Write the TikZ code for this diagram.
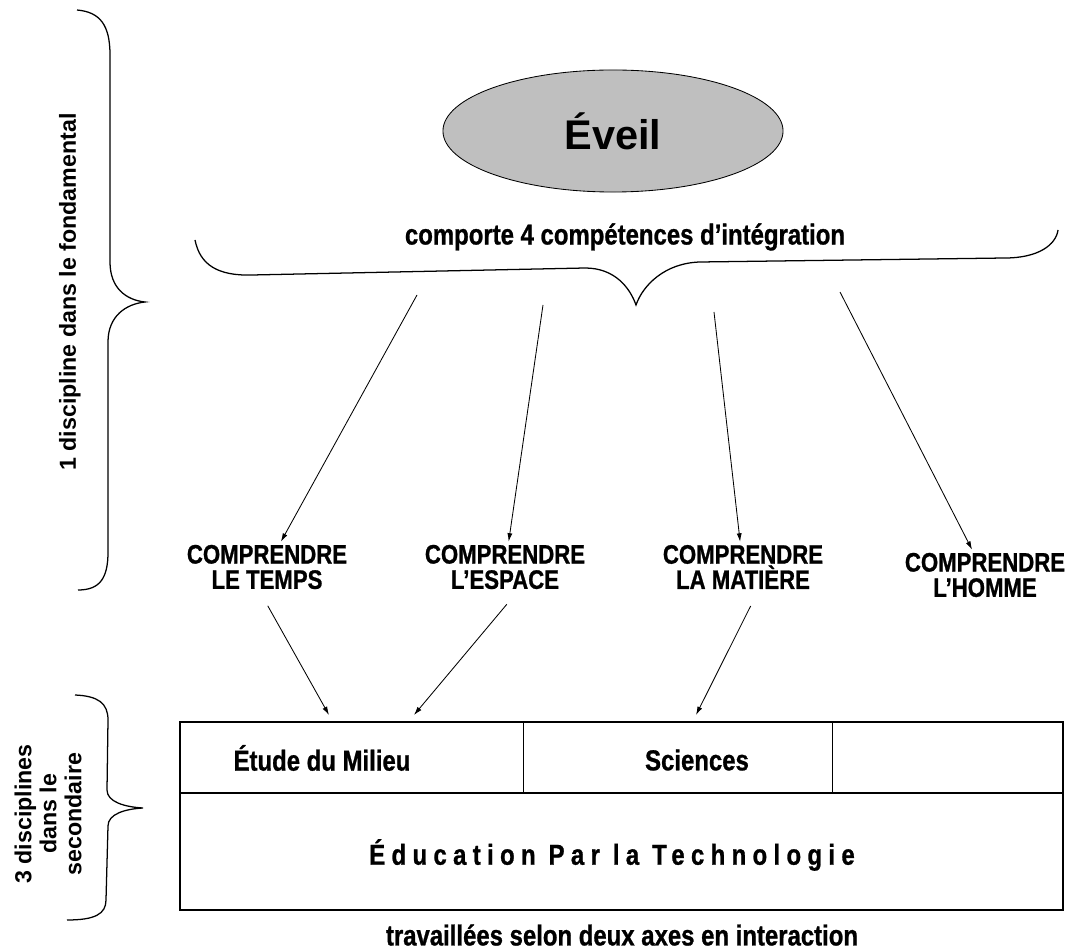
\documentclass[tikz,border=0pt]{standalone}
\usepackage{fontspec}
\setmainfont{Liberation Sans}
\newfontfamily\condfont[FakeStretch=0.83, FakeBold=0.9]{Liberation Sans}
\usetikzlibrary{arrows.meta,shapes.geometric}

\tikzset{
  lbl/.style={font=\condfont\bfseries\fontsize{20.5}{21}\selectfont, align=center, inner sep=2pt},
  comp/.style={font=\condfont\bfseries\fontsize{19}{18}\selectfont, align=center, inner sep=2pt},
  side/.style={font=\bfseries\fontsize{16.5}{17.8}\selectfont, align=center, rotate=90, inner sep=1pt},
  brace/.style={line width=0.9pt},
  cell/.style={line width=1.4pt},
}

\begin{document}
\begin{tikzpicture}[x=0.025cm, y=-0.025cm, line width=0.6pt, >={Latex[length=6pt,width=3.6pt]}]
\useasboundingbox (0,0) rectangle (1067,951);

% top part
\node[ellipse, draw, fill=black!25, minimum width=8.5cm, minimum height=3.05cm,
      font=\bfseries\fontsize{29.5}{34}\selectfont] (eveil) at (613,131) {Éveil};
\node[lbl] (intro) at (625,237) {comporte 4 compétences d’intégration};
\draw[brace] (195,240) .. controls (200,265) and (218,276) .. (252,275) -- (585,268)
  .. controls (615,268) and (630,288) .. (636,305) .. controls (643,285) and (665,263) .. (700,262)
  -- (1005,258) .. controls (1038,258) and (1056,245) .. (1058,230);

% competences
\node[comp] (temps)   at (267,567) {COMPRENDRE\\LE TEMPS};
\node[comp] (espace)  at (505,567) {COMPRENDRE\\L’ESPACE};
\node[comp] (matiere) at (743,567) {COMPRENDRE\\LA MATIÈRE};
\node[comp] (homme)   at (985,575) {COMPRENDRE\\L’HOMME};

\coordinate (a1) at (417,295);
\coordinate (a2) at (543,305);
\coordinate (a3) at (714,312);
\coordinate (a4) at (840,292);
\draw[->] (a1) -- (temps);
\draw[->] (a2) -- (espace);
\draw[->] (a3) -- (matiere);
\draw[->] (a4) -- (homme);

% disciplines du secondaire
\draw[cell] (180,722) rectangle (1063,910);
\draw[cell] (180,793) -- (1063,793);
\draw (523,722) -- (523,793) (832,722) -- (832,793);
\node[lbl] (milieu)   at (322,758) {Étude du Milieu};
\node[lbl] (sciences) at (697,760) {Sciences};
\node[lbl, font=\condfont\bfseries\fontsize{20.5}{21}\selectfont\addfontfeature{LetterSpace=22}] (ept) at (612,855) {Éducation Par la Technologie};
\node[lbl] (axes) at (622,935) {travaillées selon deux axes en interaction};

\coordinate (b1) at (329,715);
\coordinate (b2) at (414,715);
\coordinate (b3) at (696,715);
\draw[->, shorten <=11pt] (temps.255) -- (b1);
\draw[->, shorten <=11pt] (espace.295) -- (b2);
\draw[->, shorten <=11pt] (matiere.300) -- (b3);

% left braces
\draw[brace] (77,10) .. controls (100,12) and (110,25) .. (110,55) -- (110,262)
  .. controls (110,288) and (126,300) .. (145,302) .. controls (126,304) and (108,316) .. (108,342)
  -- (108,552) .. controls (108,578) and (100,590) .. (78,590);
\node[side, font=\bfseries\fontsize{16.5}{18}\selectfont] (fond) at (70,292) {1 discipline dans le fondamental};

\draw[brace] (75,695) .. controls (98,696) and (108,703) .. (108,720) -- (107,790)
  .. controls (107,802) and (125,807) .. (143,808) .. controls (125,809) and (108,814) .. (108,826)
  -- (106,900) .. controls (106,914) and (95,920) .. (67,920);
\node[side] (sec) at (48,814) {3 disciplines\\dans le\\secondaire};
\end{tikzpicture}
\end{document}
